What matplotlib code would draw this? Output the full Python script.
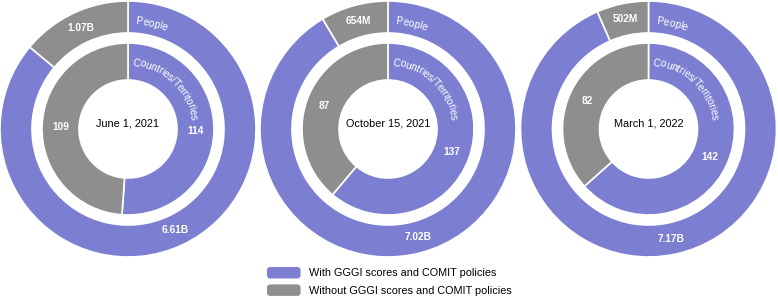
import numpy as np
import matplotlib.pyplot as plt
from matplotlib.patches import Patch, FancyBboxPatch
from matplotlib.legend_handler import HandlerPatch
from matplotlib.font_manager import FontProperties
from matplotlib.textpath import text_to_path

plt.rcParams['font.family'] = ['Liberation Sans', 'DejaVu Sans']

# Данные
dates = ['June 1, 2021', 'October 15, 2021', 'March 1, 2022']
people_with = [6.61, 7.02, 7.17]          # млрд
people_without = [1.07, 0.654, 0.502]     # млрд
people_with_lbl = ['6.61B', '7.02B', '7.17B']
people_without_lbl = ['1.07B', '654M', '502M']
countries_with = [114, 137, 142]
countries_without = [109, 87, 82]
legend_labels = ['With GGGI scores and COMIT policies',
                 'Without GGGI scores and COMIT policies']

PURPLE = '#7C7FD1'
GRAY = '#8E8E8E'

W, H = 778, 297
fig = plt.figure(figsize=(W / 100, H / 100), dpi=100)
ax = fig.add_axes([0, 0, 1, 1])

centers_x = [128, 388, 648.5]
cy = 168
R_OUT, W_OUT = 128, 32
R_IN, W_IN = 86, 37


def pt2px(v):
    return v * 100 / 72


def text_w(s, prop):
    if not s:
        return 0.0
    return pt2px(text_to_path.get_text_width_height_descent(s, prop, ismath=False)[0])


def arc_text(ax, s, cx, cy, r, start_deg, size, color='white'):
    # текст по дуге, по часовой стрелке от верхней точки
    prop = FontProperties(family='Liberation Sans', size=size)
    for k, ch in enumerate(s):
        w0 = text_w(s[:k], prop)
        w1 = text_w(s[:k + 1], prop)
        th = np.radians(start_deg) + (w0 + w1) / 2 / r
        x = cx + r * np.sin(th)
        y = cy + r * np.cos(th)
        ax.text(x, y, ch, fontproperties=prop, color=color, ha='center', va='center_baseline',
                rotation=-np.degrees(th), rotation_mode='anchor')


def mid_label(ax, vals, labels, cx, cy, r, fs):
    tot = sum(vals)
    acc = 0
    for v, lbl in zip(vals, labels):
        th = 2 * np.pi * (acc + v / 2) / tot
        ax.text(cx + r * np.sin(th), cy + r * np.cos(th), lbl, color='white',
                fontsize=fs, fontweight='bold', ha='center', va='center')
        acc += v


class RoundHandler(HandlerPatch):
    def create_artists(self, legend, orig_handle, xdescent, ydescent, width, height,
                       fontsize, trans):
        p = FancyBboxPatch((-xdescent, -ydescent), width, height,
                           boxstyle='round,pad=0,rounding_size=2.5',
                           facecolor=orig_handle.get_facecolor(), edgecolor='none',
                           transform=trans)
        return [p]


for i, cx in enumerate(centers_x):
    wp = dict(width=W_OUT, edgecolor='white', linewidth=1.2)
    ax.pie([people_with[i], people_without[i]], radius=R_OUT, center=(cx, cy),
           startangle=90, counterclock=False, colors=[PURPLE, GRAY], wedgeprops=wp, frame=True)
    wp = dict(width=W_IN, edgecolor='white', linewidth=1.2)
    ax.pie([countries_with[i], countries_without[i]], radius=R_IN, center=(cx, cy),
           startangle=90, counterclock=False, colors=[PURPLE, GRAY], wedgeprops=wp, frame=True)

    mid_label(ax, [people_with[i], people_without[i]],
              [people_with_lbl[i], people_without_lbl[i]], cx, cy, R_OUT - W_OUT / 2, 7.3)
    mid_label(ax, [countries_with[i], countries_without[i]],
              [str(countries_with[i]), str(countries_without[i])], cx, cy, R_IN - W_IN / 2, 7.3)

    arc_text(ax, 'People', cx, cy, 109, 4.2, 7.4)
    arc_text(ax, 'Countries/Territories', cx, cy, 67.5, 4.0, 7.4)

    ax.text(cx, cy + 5, dates[i], fontsize=7.8, color='black', ha='center', va='center')

handles = [Patch(facecolor=PURPLE, edgecolor='none'), Patch(facecolor=GRAY, edgecolor='none')]
ax.legend(handles, legend_labels, loc='upper left', bbox_to_anchor=(267, 297 - 267),
          bbox_transform=ax.transData, frameon=False, fontsize=7.8, borderpad=0,
          borderaxespad=0, handlelength=3.1, handleheight=1.25, handletextpad=0.8,
          labelspacing=0.55, handler_map={Patch: RoundHandler()})

ax.set_xlim(0, W)
ax.set_ylim(0, H)
ax.set_aspect('auto')
ax.axis('off')

fig.savefig('out.png', dpi=100)
